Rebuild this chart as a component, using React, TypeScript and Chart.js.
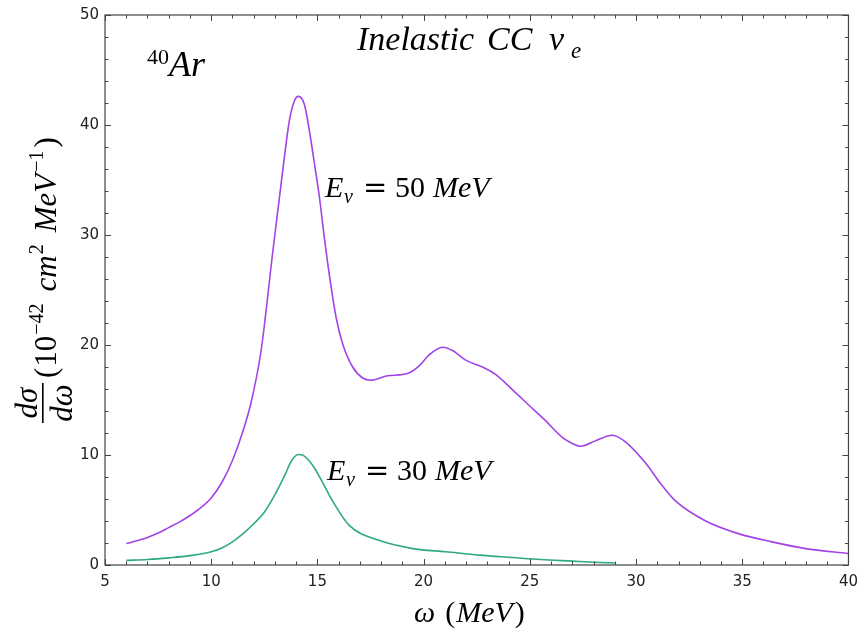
import React, { useEffect, useRef } from "react";
import { Chart, registerables } from "chart.js";

Chart.register(...registerables);

// E_nu = 50 MeV
const omega50 = [6.0, 6.5, 7.0, 7.5, 8.0, 8.5, 9.0, 9.5, 10.0, 10.5, 11.0, 11.5, 11.88, 12.35, 12.9, 13.37, 13.68, 13.92, 14.1, 14.38, 14.62, 14.86, 15.09, 15.33, 15.56, 15.88, 16.19, 16.66, 17.13, 17.5, 18.3, 19.24, 19.79, 20.26, 20.89, 21.36, 22.0, 22.77, 23.4, 24.2, 24.97, 25.75, 26.53, 26.85, 27.4, 28.1, 28.88, 29.5, 30.46, 31.08, 31.87, 33.28, 34.85, 36.4, 37.98, 40.0];
const sigma50 = [1.95, 2.2, 2.5, 2.9, 3.4, 3.9, 4.5, 5.2, 6.1, 7.5, 9.5, 12.2, 14.8, 19.5, 28.5, 35.9, 40.4, 42.2, 42.6, 41.9, 39.5, 36.5, 33.5, 29.7, 26.4, 22.5, 20.1, 18.0, 17.0, 16.8, 17.2, 17.4, 18.1, 19.1, 19.8, 19.5, 18.6, 18.0, 17.3, 15.9, 14.5, 13.1, 11.6, 11.2, 10.8, 11.3, 11.8, 11.2, 9.24, 7.6, 5.8, 4.0, 2.83, 2.1, 1.49, 1.04];

// E_nu = 30 MeV
const omega30 = [6.0, 7.0, 8.0, 9.0, 10.0, 10.5, 11.0, 11.5, 12.0, 12.5, 13.0, 13.5, 13.7, 13.9, 14.1, 14.3, 14.5, 14.8, 15.09, 15.72, 16.5, 17.9, 19.48, 21.05, 22.62, 24.2, 25.5, 27.0, 28.0, 29.0];
const sigma30 = [0.42, 0.5, 0.65, 0.85, 1.2, 1.55, 2.1, 2.85, 3.75, 4.8, 6.4, 8.3, 9.2, 9.8, 10.05, 10.0, 9.7, 9.0, 8.05, 5.8, 3.6, 2.24, 1.49, 1.2, 0.9, 0.68, 0.5, 0.35, 0.25, 0.18];

const xTickValues = [5, 10, 15, 20, 25, 30, 35, 40];
const yTickValues = [0, 10, 20, 30, 40, 50];

const PURPLE = "#a243e8";
const GREEN = "#2daa84";
const SERIF = "'Liberation Serif', 'DejaVu Serif', serif";

type Seg = { t: string; font: string; x: number; dy?: number };
type FSeg = { t: string; font: string; dy?: number; gap?: number };

function drawAt(ctx: CanvasRenderingContext2D, y: number, segs: Seg[]) {
  for (const s of segs) {
    ctx.font = s.font;
    ctx.fillText(s.t, s.x, y + (s.dy || 0));
  }
}

function drawFlow(ctx: CanvasRenderingContext2D, x: number, y: number, segs: FSeg[]) {
  let cx = x;
  for (const s of segs) {
    ctx.font = s.font;
    ctx.fillText(s.t, cx, y + (s.dy || 0));
    cx += ctx.measureText(s.t).width + (s.gap || 0);
  }
  return cx;
}

const it = (px: number) => `italic ${px}px ${SERIF}`;
const up = (px: number) => `${px}px ${SERIF}`;
const eq = (px: number) => `${px}px 'DejaVu Serif', serif`;

const framePlugin = {
  id: "frameTicks",
  afterDraw(chart: any) {
    const ctx: CanvasRenderingContext2D = chart.ctx;
    const { left, right, top, bottom } = chart.chartArea;
    const xs = chart.scales.x;
    const ys = chart.scales.y;
    ctx.save();
    ctx.strokeStyle = "#444";
    ctx.lineWidth = 1;
    ctx.beginPath();
    for (let v = 5; v <= 40; v++) {
      const px = Math.round(xs.getPixelForValue(v)) + 0.5;
      const len = v % 5 === 0 ? 6 : 3.5;
      ctx.moveTo(px, bottom);
      ctx.lineTo(px, bottom - len);
      ctx.moveTo(px, top);
      ctx.lineTo(px, top + len);
    }
    for (let v = 0; v <= 50; v += 2) {
      const py = Math.round(ys.getPixelForValue(v)) + 0.5;
      const len = v % 10 === 0 ? 6 : 3.5;
      ctx.moveTo(left, py);
      ctx.lineTo(left + len, py);
      ctx.moveTo(right, py);
      ctx.lineTo(right - len, py);
    }
    ctx.stroke();
    ctx.lineWidth = 1.2;
    ctx.strokeRect(left, top, right - left, bottom - top);

    ctx.fillStyle = "#000";
    ctx.textBaseline = "alphabetic";
    ctx.textAlign = "left";

    // 40Ar
    drawAt(ctx, 76, [
      { t: "40", font: up(22), x: 147, dy: -12 },
      { t: "Ar", font: it(36), x: 169 },
    ]);

    // Inelastic CC nu_e
    drawAt(ctx, 50, [
      { t: "Inelastic", font: it(34), x: 357 },
      { t: "CC", font: it(34), x: 487 },
      { t: "ν", font: it(34), x: 549 },
      { t: "e", font: it(23), x: 571, dy: 8 },
    ]);

    // E_nu labels
    const eLabel = (x0: number, y: number, n: string) =>
      drawAt(ctx, y, [
        { t: "E", font: it(30), x: x0 },
        { t: "ν", font: it(20), x: x0 + 19, dy: 6 },
        { t: "=", font: eq(29), x: x0 + 38 },
        { t: n, font: up(30), x: x0 + 70 },
        { t: "MeV", font: it(30), x: x0 + 108 },
      ]);
    eLabel(325, 197, "50");
    eLabel(327, 480, "30");

    // x-axis title
    drawFlow(ctx, 414, 622, [
      { t: "ω", font: it(30), gap: 10 },
      { t: "(", font: up(30), gap: 1 },
      { t: "MeV", font: it(30), gap: 2 },
      { t: ")", font: up(30) },
    ]);

    // y-axis title (rotated)
    ctx.save();
    ctx.rotate(-Math.PI / 2);
    const fc = -403;
    ctx.font = it(31);
    ctx.textAlign = "center";
    ctx.fillText("dσ", fc, 37);
    ctx.fillText("dω", fc, 72);
    ctx.fillRect(fc - 20, 42, 40, 1.6);
    ctx.textAlign = "left";
    drawFlow(ctx, -378, 56, [
      { t: "(", font: up(31), gap: 1 },
      { t: "10", font: up(31), gap: 1 },
      { t: "−42", font: up(20), dy: -13, gap: 12 },
      { t: "cm", font: it(31), gap: 1 },
      { t: "2", font: up(20), dy: -13, gap: 12 },
      { t: "MeV", font: it(31), gap: 2 },
      { t: "−1", font: up(20), dy: -13, gap: 3 },
      { t: ")", font: up(31) },
    ]);
    ctx.restore();
    ctx.restore();
  },
};

export default function App() {
  const ref = useRef<HTMLCanvasElement>(null);
  useEffect(() => {
    document.body.style.margin = "0";
    const canvas = ref.current!;
    const chart = new Chart(canvas, {
      type: "line",
      data: {
        datasets: [
          {
            data: omega50.map((x, i) => ({ x, y: sigma50[i] })),
            borderColor: PURPLE,
            borderWidth: 1.6,
            pointRadius: 0,
            cubicInterpolationMode: "monotone",
            fill: false,
          },
          {
            data: omega30.map((x, i) => ({ x, y: sigma30[i] })),
            borderColor: GREEN,
            borderWidth: 1.6,
            pointRadius: 0,
            cubicInterpolationMode: "monotone",
            fill: false,
          },
        ],
      },
      options: {
        responsive: false,
        animation: false,
        events: [],
        layout: { padding: { left: 0, right: 16, top: 6, bottom: 0 } },
        plugins: { legend: { display: false }, tooltip: { enabled: false } },
        scales: {
          x: {
            type: "linear",
            min: 5,
            max: 40,
            afterFit: (s: any) => {
              s.height = 69;
            },
            afterBuildTicks: (s: any) => {
              s.ticks = xTickValues.map((v) => ({ value: v }));
            },
            grid: { display: false, drawTicks: false },
            border: { display: false },
            ticks: {
              padding: 8,
              color: "#222",
              font: { family: "'DejaVu Sans', sans-serif", size: 15 },
              maxRotation: 0,
            },
          },
          y: {
            type: "linear",
            min: 0,
            max: 50,
            afterFit: (s: any) => {
              s.width = 105;
            },
            afterBuildTicks: (s: any) => {
              s.ticks = yTickValues.map((v) => ({ value: v }));
            },
            grid: { display: false, drawTicks: false },
            border: { display: false },
            ticks: {
              padding: 6,
              color: "#222",
              font: { family: "'DejaVu Sans', sans-serif", size: 15 },
            },
          },
        },
      },
      plugins: [framePlugin],
    } as any);
    return () => chart.destroy();
  }, []);
  return <canvas ref={ref} width={866} height={634} style={{ display: "block" }} />;
}
